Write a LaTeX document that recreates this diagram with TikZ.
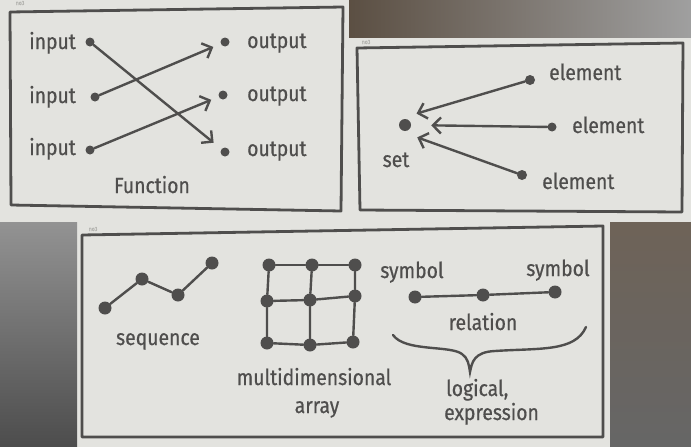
\documentclass[tikz,border=0pt]{standalone}
\usepackage{fontspec}
\setmainfont[FakeStretch=0.88,FakeBold=0.6]{Fira Sans}
\usetikzlibrary{arrows.meta}
\definecolor{paper}{HTML}{E3E3DF}
\definecolor{ink}{HTML}{4F4E4D}
\definecolor{faint}{HTML}{B4B4B0}
\begin{document}
\begin{tikzpicture}[x=1pt,y=-1pt,
  dot/.style={circle, fill=ink, inner sep=0pt, minimum size=10pt},
  sdot/.style={circle, fill=ink, inner sep=0pt, minimum size=9pt},
  bdot/.style={circle, fill=ink, inner sep=0pt, minimum size=13pt},
  lbl/.style={text=ink, font=\fontsize{22}{24}\selectfont, inner sep=0pt},
  tag/.style={text=faint, font=\fontsize{6}{7}\selectfont, inner sep=0pt},
  link/.style={draw=ink, line width=2.4pt, line cap=round},
  arr/.style={link, -{Straight Barb[length=8pt,width=16pt]}},
  frame/.style={draw=ink, line width=2.8pt, line join=round}]
\useasboundingbox (0,0) rectangle (691,447);
% paper and background
\fill[paper] (0,0) rectangle (691,447);
\shade[left color=ink!80!brown!90!black, right color=gray!75] (349,0) rectangle (691,37);
\shade[top color=gray!85, bottom color=gray!60!black] (0,222) rectangle (77,447);
\shade[top color=black!75!brown!70, bottom color=gray!80!black] (610,222) rectangle (691,447);
% card tags
\node[tag] (t1) at (20,3) {no3};
\node[tag] (t2) at (366,42) {no3};
\node[tag] (t3) at (93,229) {no3};
% frames
\draw[frame] (10,12) -- (343,7) -- (341,211) -- (11,205) -- cycle;
\draw[frame] (357,48) -- (683,43) -- (682,212) -- (360,210) -- cycle;
\draw[frame] (82,235) -- (603,226) -- (603,437) -- (82,437) -- cycle;

% ---------- card 1: function
\node[sdot] (in1) at (90,42) {};
\node[sdot] (in2) at (95,97) {};
\node[sdot] (in3) at (90,150) {};
\node[sdot] (out1) at (225,42) {};
\node[sdot] (out2) at (223,95) {};
\node[sdot] (out3) at (225,152) {};
\node[lbl, anchor=base east] (li1) at (76,49) {input};
\node[lbl, anchor=base east] (li2) at (76,103) {input};
\node[lbl, anchor=base east] (li3) at (76,155) {input};
\node[lbl, anchor=base west] (lo1) at (247,48) {output};
\node[lbl, anchor=base west] (lo2) at (247,101) {output};
\node[lbl, anchor=base west] (lo3) at (247,156) {output};
\node[lbl, anchor=base] (fn) at (152,193) {Function};
\draw[arr, shorten >=10pt] (in1) -- (out3);
\draw[arr, shorten >=8pt] (in2) -- (out1);
\draw[arr, shorten >=8pt] (in3) -- (out2);

% ---------- card 2: set
\node[circle, fill=ink, inner sep=0pt, minimum width=9pt, minimum height=12pt] (set) at (405,125) {};
\node[lbl, anchor=base] (lset) at (396,167) {set};
\node[dot] (e1) at (530,80) {};
\node[sdot] (e2) at (552,127) {};
\node[dot] (e3) at (522,175) {};
\node[lbl, anchor=base west] (le1) at (549,80) {element};
\node[lbl, anchor=base west] (le2) at (572,133) {element};
\node[lbl, anchor=base west] (le3) at (542,189) {element};
\draw[arr, shorten >=12pt] (e1) -- ([yshift=8pt]set.center);
\draw[arr, shorten >=20pt] (e2) -- (set);
\draw[arr, shorten >=13pt] (e3) -- ([yshift=-8pt]set.center);

% ---------- card 3
% sequence
\node[bdot] (s1) at (105,308) {};
\node[bdot] (s2) at (142,279) {};
\node[bdot] (s3) at (178,295) {};
\node[bdot] (s4) at (212,263) {};
\draw[link] (s1) -- (s2) -- (s3) -- (s4);
\node[lbl, anchor=base] (lseq) at (158,345) {sequence};
% array
\node[bdot] (a11) at (269,265) {};
\node[bdot] (a12) at (312,265) {};
\node[bdot] (a13) at (355,265) {};
\node[bdot] (a21) at (267,301) {};
\node[bdot] (a22) at (310,300) {};
\node[bdot] (a23) at (355,296) {};
\node[bdot] (a31) at (267,343) {};
\node[bdot] (a32) at (310,345) {};
\node[bdot] (a33) at (353,342) {};
\draw[link] (a11) -- (a12) -- (a13);
\draw[link] (a21) -- (a22) -- (a23);
\draw[link] (a31) -- (a32) -- (a33);
\draw[link] (a11) -- (a21) -- (a31);
\draw[link] (a12) -- (a22) -- (a32);
\draw[link] (a13) -- (a23) -- (a33);
\node[lbl, anchor=base] (lmd) at (314,385) {multidimensional};
\node[lbl, anchor=base] (larr) at (317,413) {array};
% logical expression
\node[lbl, anchor=base] (sy1) at (412,278) {symbol};
\node[lbl, anchor=base] (sy2) at (558,276) {symbol};
\node[bdot] (r1) at (415,297) {};
\node[bdot] (r2) at (483,295) {};
\node[bdot] (r3) at (555,292) {};
\draw[link] (r1) -- (r2) -- (r3);
\node[lbl, anchor=base] (lrel) at (483,330) {relation};
\coordinate (bl) at (393,335);
\coordinate (bt) at (470,372);
\coordinate (br) at (586,327);
\draw[link] (bl) .. controls (405,352) and (450,345) .. (462,354)
  .. controls (468,358) and (469,365) .. (bt)
  .. controls (472,362) and (474,352) .. (495,351)
  .. controls (540,348) and (575,352) .. (br);
\node[lbl, anchor=base west] (llog) at (446,396) {logical,};
\node[lbl, anchor=base west] (lexp) at (444,420) {expression};
\end{tikzpicture}
\end{document}
